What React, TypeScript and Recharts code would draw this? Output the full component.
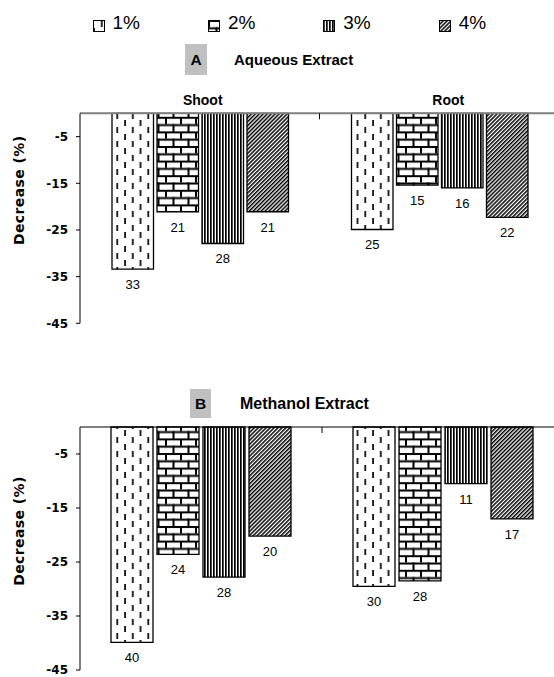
import React from 'react'
import { BarChart, Bar, XAxis, YAxis, Legend, LabelList } from 'recharts'

const categories = ['Shoot', 'Root']
const seriesNames = ['1%', '2%', '3%', '4%']
const yTicks = [-5, -15, -25, -35, -45]

// A: aqueous extract
const aqueous1 = [-33.4, -24.9]
const aqueous2 = [-21.1, -15.4]
const aqueous3 = [-27.9, -16.0]
const aqueous4 = [-21.1, -22.3]
const aqueousLabels1 = ['33', '25']
const aqueousLabels2 = ['21', '15']
const aqueousLabels3 = ['28', '16']
const aqueousLabels4 = ['21', '22']

// B: methanol extract
const methanol1 = [-39.9, -29.5]
const methanol2 = [-23.6, -28.5]
const methanol3 = [-27.8, -10.5]
const methanol4 = [-20.2, -17.0]
const methanolLabels1 = ['40', '30']
const methanolLabels2 = ['24', '28']
const methanolLabels3 = ['28', '11']
const methanolLabels4 = ['20', '17']

const PLOT_LEFT = 80
const SANS = '"Liberation Sans", Arial, sans-serif'
const WIDE = '"DejaVu Sans", sans-serif'

const buildRows = (vals: number[][], labels: string[][]) =>
  categories.map((name, i) => ({
    name,
    v1: vals[0][i],
    v2: vals[1][i],
    v3: vals[2][i],
    v4: vals[3][i],
    l1: labels[0][i],
    l2: labels[1][i],
    l3: labels[2][i],
    l4: labels[3][i],
  }))

const PatternDefs = () => (
  <svg width={0} height={0} style={{ position: 'absolute' }}>
    <defs>
      <pattern id='pat1' patternUnits='userSpaceOnUse' width={15.5} height={14}>
        <rect width={15.5} height={14} fill='#fff' />
        <rect x={7.9} y={1} width={1.8} height={6} fill='#111' />
        <rect x={0.15} y={8} width={1.8} height={6} fill='#111' />
      </pattern>
      <pattern id='pat2' patternUnits='userSpaceOnUse' width={15} height={14.6}>
        <rect width={15} height={14.6} fill='#fff' />
        <rect y={0} width={15} height={2} fill='#000' />
        <rect y={7.3} width={15} height={2} fill='#000' />
        <rect x={0} y={0} width={2} height={7.3} fill='#000' />
        <rect x={7.5} y={7.3} width={2} height={7.3} fill='#000' />
      </pattern>
      <pattern id='pat3' patternUnits='userSpaceOnUse' width={3} height={3}>
        <rect width={3} height={3} fill='#fff' />
        <rect width={1.7} height={3} fill='#000' />
      </pattern>
      <pattern
        id='pat4'
        patternUnits='userSpaceOnUse'
        width={2.8}
        height={2.8}
        patternTransform='rotate(45)'
      >
        <rect width={2.8} height={2.8} fill='#fff' />
        <rect width={1.5} height={2.8} fill='#000' />
      </pattern>
    </defs>
  </svg>
)

const renderValueLabel = (props: any) => {
  const vb = props.viewBox ?? props
  const x = Number(vb.x)
  const y = Number(vb.y)
  const w = Number(vb.width)
  const h = Number(vb.height)
  const bottom = Math.max(y, y + h)
  return (
    <text
      x={x + w / 2}
      y={bottom + 20}
      textAnchor='middle'
      fontSize={13}
      fontFamily={SANS}
      fill='#000'
    >
      {props.value}
    </text>
  )
}

const renderLegend = ({ payload }: any) => (
  <div style={{ display: 'flex', paddingLeft: 92.5, fontFamily: SANS }}>
    {(payload ?? []).map((entry: any, i: number) => (
      <div
        key={entry.value}
        style={{ width: 117.3, display: 'flex', alignItems: 'center' }}
      >
        <svg
          width={12}
          height={12}
          style={{ marginRight: 8, position: 'relative', top: 4 }}
        >
          <rect
            x={0.5}
            y={0.5}
            width={11}
            height={11}
            fill={`url(#pat${i + 1})`}
            stroke='#000'
          />
        </svg>
        <span style={{ fontSize: 19, lineHeight: '19px', color: '#000' }}>
          {entry.value}
        </span>
      </div>
    ))}
  </div>
)

const CategoryTick = ({ x, y, payload, index, showText }: any) => {
  const boundary = x - (x - PLOT_LEFT) / 3
  return (
    <g>
      {showText && (
        <text
          x={x + 3 + index * 6}
          y={y}
          textAnchor='middle'
          fontSize={14}
          fontWeight='bold'
          fontFamily={SANS}
          fill='#000'
        >
          {payload.value}
        </text>
      )}
      {index === 1 && (
        <line
          x1={boundary}
          x2={boundary}
          y1={y + 8}
          y2={y + 14}
          stroke='#000'
        />
      )}
    </g>
  )
}

const Panel = ({
  rows,
  top,
  width,
  height,
  marginTop,
  xAxisHeight,
  barSize,
  barGap,
  axisStroke,
  axisStrokeWidth,
  showCategories,
  showLegend,
  titleOffset,
}: any) => (
  <div style={{ position: 'absolute', left: 0, top }}>
    <BarChart
      width={width}
      height={height}
      data={rows}
      barGap={barGap}
      margin={{ top: marginTop, right: 0, left: 0, bottom: 12 }}
    >
      <XAxis
        dataKey='name'
        orientation='top'
        height={xAxisHeight}
        interval={0}
        axisLine={{ stroke: axisStroke, strokeWidth: axisStrokeWidth }}
        tickLine={false}
        tickSize={0}
        tickMargin={8}
        tick={(p: any) => <CategoryTick {...p} showText={showCategories} />}
      />
      <YAxis
        width={PLOT_LEFT}
        domain={[-45, 0]}
        ticks={yTicks}
        interval={0}
        axisLine={{ stroke: '#000' }}
        tickLine={{ stroke: '#000' }}
        tickSize={4}
        tickMargin={8}
        tick={{
          fill: '#000',
          fontSize: 12,
          fontWeight: 'bold',
          fontFamily: WIDE,
        }}
        label={{
          content: ({ viewBox }: any) => (
            <text
              transform={`translate(${viewBox.x + 23.5}, ${viewBox.y + titleOffset}) rotate(-90)`}
              textAnchor='middle'
              fontSize={14}
              fontWeight='bold'
              fontFamily={WIDE}
              letterSpacing={0.4}
              fill='#000'
            >
              Decrease (%)
            </text>
          ),
        }}
      />
      {showLegend && (
        <Legend
          layout='horizontal'
          verticalAlign='middle'
          align='center'
          wrapperStyle={{ position: 'absolute', top: 12.5, left: 0, width: 554 }}
          content={renderLegend}
        />
      )}
      {seriesNames.map((s, i) => (
        <Bar
          key={s}
          dataKey={`v${i + 1}`}
          name={s}
          fill={`url(#pat${i + 1})`}
          stroke='#000'
          strokeWidth={1.3}
          barSize={barSize}
          isAnimationActive={false}
        >
          <LabelList dataKey={`l${i + 1}`} content={renderValueLabel} />
        </Bar>
      ))}
    </BarChart>
  </div>
)

export default function App() {
  const aqueousRows = buildRows(
    [aqueous1, aqueous2, aqueous3, aqueous4],
    [aqueousLabels1, aqueousLabels2, aqueousLabels3, aqueousLabels4],
  )
  const methanolRows = buildRows(
    [methanol1, methanol2, methanol3, methanol4],
    [methanolLabels1, methanolLabels2, methanolLabels3, methanolLabels4],
  )

  return (
    <div
      style={{
        position: 'absolute',
        left: 0,
        top: 0,
        width: 554,
        height: 677,
        overflow: 'hidden',
        background: '#fff',
        fontFamily: SANS,
      }}
    >
      <PatternDefs />
      <Panel
        rows={aqueousRows}
        top={0}
        width={559}
        height={335.3}
        marginTop={93.3}
        xAxisHeight={20}
        barSize={41.5}
        barGap={3.5}
        axisStroke='#7f7f7f'
        axisStrokeWidth={2}
        showCategories
        showLegend
        titleOffset={77}
      />
      <Panel
        rows={methanolRows}
        top={380}
        width={564}
        height={302}
        marginTop={37}
        xAxisHeight={10}
        barSize={42}
        barGap={4}
        axisStroke='#000'
        axisStrokeWidth={1}
        showCategories={false}
        showLegend={false}
        titleOffset={104}
      />
      <svg
        width={554}
        height={677}
        style={{ position: 'absolute', left: 0, top: 0, pointerEvents: 'none' }}
      >
        <rect x={185} y={44} width={22} height={31} fill='#c0c0c0' />
        <text x={196} y={65} textAnchor='middle' fontSize={15.5} fontWeight='bold' fontFamily={SANS} fill='#000'>
          A
        </text>
        <text x={234} y={64.8} fontSize={15} fontWeight='bold' fontFamily={SANS} fill='#000'>
          Aqueous Extract
        </text>
        <rect x={190} y={389} width={21} height={29} fill='#c0c0c0' />
        <text x={200.5} y={408.8} textAnchor='middle' fontSize={15.5} fontWeight='bold' fontFamily={SANS} fill='#000'>
          B
        </text>
        <text x={240} y={408.8} fontSize={16} fontWeight='bold' fontFamily={SANS} fill='#000'>
          Methanol Extract
        </text>
      </svg>
    </div>
  )
}
